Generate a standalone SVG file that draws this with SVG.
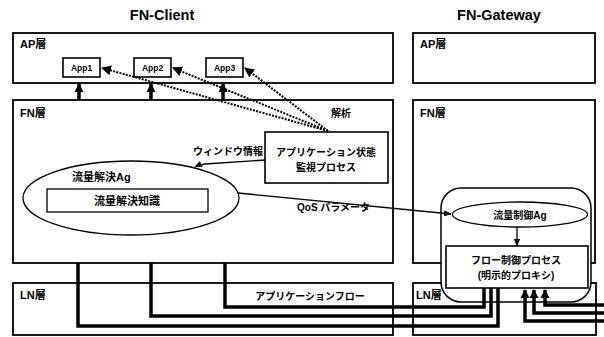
<svg xmlns="http://www.w3.org/2000/svg" width="604" height="337" viewBox="0 0 604 337">
<defs>
<style>
text{font-family:"Liberation Sans","Noto Sans CJK JP",sans-serif;font-weight:bold;fill:#000}
.box{fill:none;stroke:#000;stroke-width:1.8}
.wbox{fill:#fff;stroke:#000;stroke-width:1.6}
.title{font-size:14.5px;text-anchor:middle}
.lbl{font-size:11px}
.t10{font-size:10px}
.c{text-anchor:middle}
.flow{fill:none;stroke:#000;stroke-width:3.5;stroke-linejoin:miter}
.dot{fill:none;stroke:#000;stroke-width:2;stroke-dasharray:2 1.3}
.thin{fill:none;stroke:#000;stroke-width:1.3}
</style>
<marker id="ah" viewBox="0 0 10 10" refX="9" refY="5" markerWidth="5" markerHeight="5" orient="auto"><path d="M0,0 L10,5 L0,10 Z" fill="#000"/></marker>
<marker id="ahs" viewBox="0 0 10 10" refX="9" refY="5" markerWidth="6" markerHeight="6" orient="auto"><path d="M0,1 L10,5 L0,9 Z" fill="#000"/></marker>
<marker id="up" viewBox="0 0 10 10" refX="9" refY="5" markerWidth="2.6" markerHeight="2.6" orient="auto"><path d="M0,0 L10,5 L0,10 Z" fill="#000"/></marker>
</defs>

<text class="title" x="162" y="20">FN-Client</text>
<text class="title" x="499" y="20">FN-Gateway</text>

<g id="client-ap">
<rect class="box" x="13" y="33" width="380" height="50"/>
<text class="lbl" x="20" y="48">AP層</text>
</g>
<g id="gw-ap">
<rect class="box" x="413" y="33" width="182" height="50"/>
<text class="lbl" x="420" y="48">AP層</text>
</g>
<g id="client-fn">
<rect class="box" x="13" y="100" width="380" height="163"/>
<text class="lbl" x="20" y="117">FN層</text>
<text class="t10 c" x="341" y="117">解析</text>
</g>
<g id="gw-fn">
<rect class="box" x="413" y="100" width="182" height="163"/>
<text class="lbl" x="420" y="117">FN層</text>
</g>
<g id="client-ln">
<rect class="box" x="13" y="283" width="380" height="52"/>
<text class="lbl" x="20" y="299">LN層</text>
<text class="t10 c" x="310" y="300">アプリケーションフロー</text>
</g>
<g id="gw-ln">
<rect class="box" x="413" y="283" width="183" height="52"/>
<text class="lbl" x="416" y="299">LN層</text>
</g>

<g id="app1"><rect class="wbox" x="63" y="58" width="37" height="19"/><text class="c" style="font-size:8.5px" x="81.5" y="71">App1</text></g>
<g id="app2"><rect class="wbox" x="134" y="58" width="37" height="19"/><text class="c" style="font-size:8.5px" x="152.5" y="71">App2</text></g>
<g id="app3"><rect class="wbox" x="206" y="58" width="37" height="19"/><text class="c" style="font-size:8.5px" x="224.5" y="71">App3</text></g>

<g id="monitor">
<rect class="wbox" x="265" y="132" width="123" height="51"/>
<text class="t10 c" x="326" y="156">アプリケーション状態</text>
<text class="t10 c" x="326" y="171">監視プロセス</text>
</g>

<g id="flow-ag">
<ellipse class="thin" cx="131" cy="198" rx="108" ry="37"/>
<text class="lbl" x="72" y="181">流量解決Ag</text>
<rect class="thin" x="47" y="189" width="161" height="23"/>
<text class="lbl c" x="127" y="205">流量解決知識</text>
</g>

<g id="gw-group">
<rect x="441" y="188" width="150" height="114" rx="20" ry="20" fill="#fff" stroke="#000" stroke-width="1.5"/>
</g>
<g id="ctrl-ag">
<ellipse class="thin" cx="520" cy="214.5" rx="67.5" ry="12.5" fill="#fff"/>
<text class="t10 c" x="520" y="218.5">流量制御Ag</text>
</g>
<g id="ctrl-proc">
<rect class="wbox" x="446" y="246" width="142" height="42"/>
<text class="t10 c" x="516" y="264">フロー制御プロセス</text>
<text class="t10 c" x="516" y="279">(明示的プロキシ)</text>
</g>

<g id="connectors">
<!-- FN to AP up arrows -->
<line class="flow" x1="79" y1="100" x2="79" y2="84" marker-end="url(#up)"/>
<line class="flow" x1="151" y1="100" x2="151" y2="84" marker-end="url(#up)"/>
<line class="flow" x1="223" y1="100" x2="223" y2="84" marker-end="url(#up)"/>
<!-- dotted monitoring lines -->
<line class="dot" x1="328" y1="131" x2="102" y2="68" marker-end="url(#ah)"/>
<line class="dot" x1="328" y1="131" x2="173" y2="68" marker-end="url(#ah)"/>
<line class="dot" x1="328" y1="131" x2="245" y2="68" marker-end="url(#ah)"/>
<!-- window info -->
<path class="thin" d="M265,160 L205,164 Q199,165 195,167" marker-end="url(#ahs)"/>
<text class="t10" x="193" y="155">ウィンドウ情報</text>
<!-- QoS -->
<line class="thin" x1="238" y1="193" x2="451" y2="214" marker-end="url(#ahs)"/>
<text class="t10" x="297" y="211">QoS パラメータ</text>
<!-- Ag to process -->
<line class="thin" x1="517" y1="227" x2="517" y2="246" marker-end="url(#ahs)"/>
<!-- application flows -->
<polyline class="flow" points="225,263 225,307 484,307 484,288"/>
<polyline class="flow" points="151,263 151,316 491,316 491,288"/>
<polyline class="flow" points="78,263 78,326 498,326 498,288"/>
<polyline class="flow" points="604,305 545,305 545,290" marker-end="url(#up)"/>
<polyline class="flow" points="604,313 534,313 534,290" marker-end="url(#up)"/>
<polyline class="flow" points="604,321 525,321 525,290" marker-end="url(#up)"/>
</g>
</svg>
